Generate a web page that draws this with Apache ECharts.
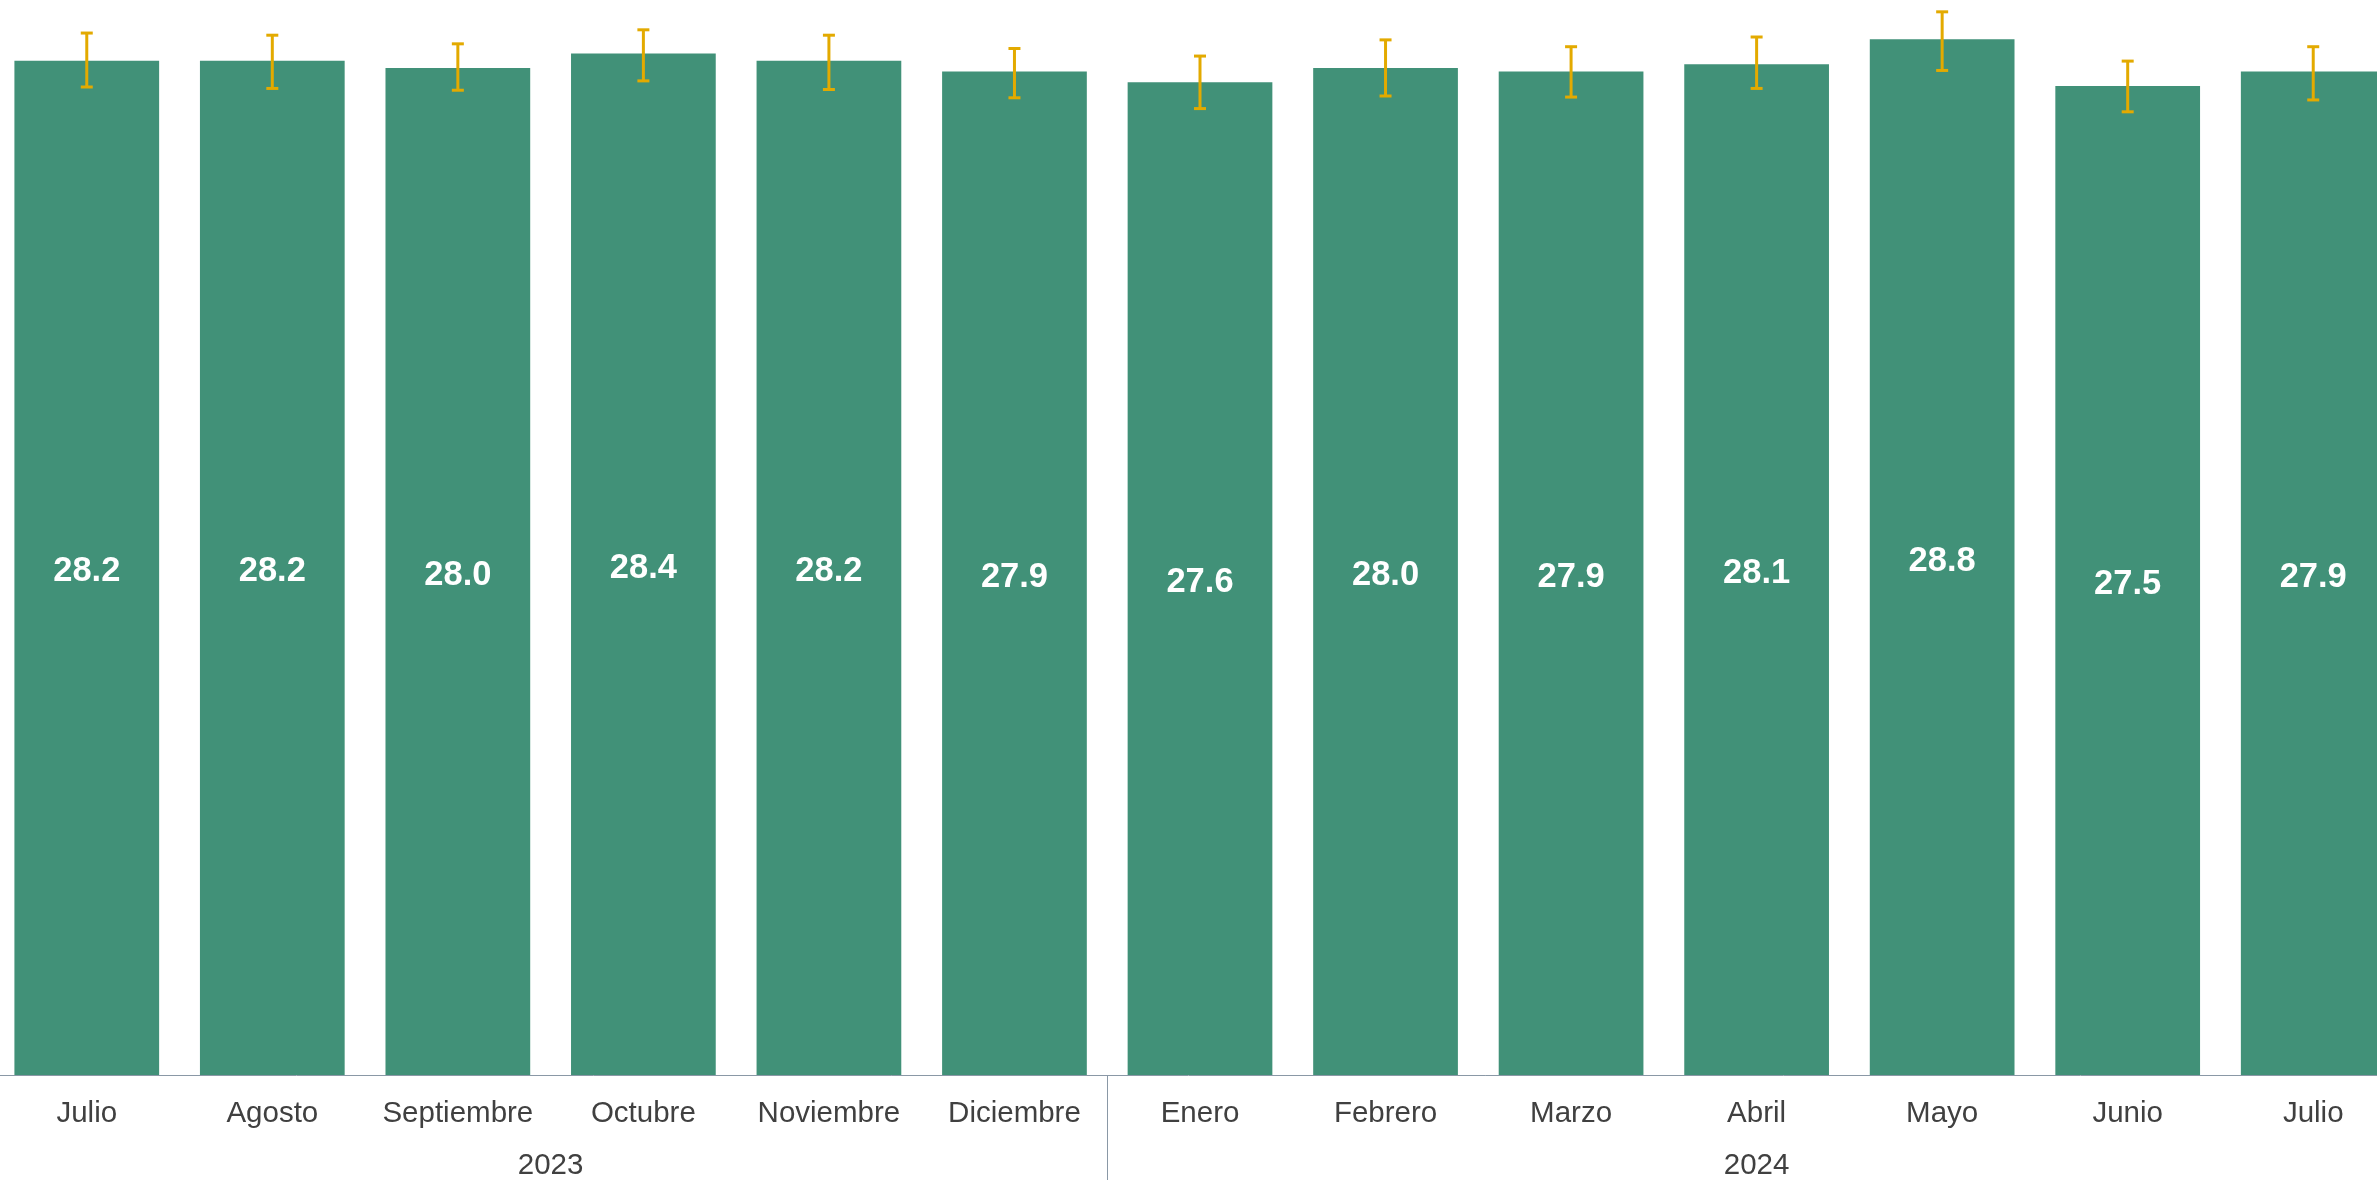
<!DOCTYPE html>
<html>
<head>
<meta charset="utf-8">
<style>
html,body{margin:0;padding:0;background:#fff;}
#chart{width:2377px;height:1180px;}
</style>
<script src="https://cdn.jsdelivr.net/npm/echarts@6/dist/echarts.min.js"></script>
</head>
<body>
<div id="chart"></div>
<script>
const months = ['Julio','Agosto','Septiembre','Octubre','Noviembre','Diciembre','Enero','Febrero','Marzo','Abril','Mayo','Junio','Julio'];
const values = [28.2, 28.2, 28.0, 28.4, 28.2, 27.9, 27.6, 28.0, 27.9, 28.1, 28.8, 27.5, 27.9];
const lowerCI = [27.47, 27.43, 27.38, 27.64, 27.40, 27.17, 26.87, 27.22, 27.19, 27.43, 27.93, 26.78, 27.11];
const upperCI = [28.97, 28.91, 28.67, 29.06, 28.91, 28.54, 28.33, 28.78, 28.59, 28.86, 29.56, 28.19, 28.59];
const years = ['2023', '2024'];
const yearCenters = [2.5, 9];   // category positions of the year labels
const yearBoundary = [5.5];     // separator between 2023 and 2024

const chart = echarts.init(document.getElementById('chart'));
const errData = months.map((m, i) => [i, lowerCI[i], upperCI[i]]);

chart.setOption({
  animation: false,
  grid: { left: -6, width: 2412, top: -4, bottom: 105, containLabel: false, outerBoundsMode: 'none' },
  xAxis: [{
    type: 'category',
    data: months,
    boundaryGap: true,
    axisLine: { show: true, lineStyle: { color: '#8a98a6', width: 1 } },
    axisTick: { show: false },
    axisLabel: {
      interval: 0,
      margin: 24,
      fontSize: 29.5,
      fontFamily: 'Liberation Sans, Arial, sans-serif',
      color: '#404040'
    }
  }, {
    type: 'value',
    position: 'bottom',
    min: -0.5,
    max: 12.5,
    axisLine: { show: false },
    axisTick: {
      show: true,
      customValues: yearBoundary,
      length: 110,
      lineStyle: { color: '#8a98a6', width: 1 }
    },
    splitLine: { show: false },
    axisLabel: {
      customValues: yearCenters,
      margin: 76,
      fontSize: 29.5,
      fontFamily: 'Liberation Sans, Arial, sans-serif',
      color: '#404040',
      hideOverlap: false,
      formatter: function (v) {
        const k = yearCenters.indexOf(v);
        return k >= 0 ? years[k] : '';
      }
    }
  }],
  yAxis: {
    type: 'value',
    min: 0,
    max: 30,
    show: false,
    splitLine: { show: false }
  },
  series: [{
    type: 'bar',
    data: values,
    barWidth: '78%',
    itemStyle: { color: '#419178' },
    label: {
      show: true,
      position: 'inside',
      offset: [0, 4],
      color: '#ffffff',
      fontWeight: 'bold',
      fontSize: 34.5,
      fontFamily: 'Liberation Sans, Arial, sans-serif',
      formatter: function (p) { return p.value.toFixed(1); }
    },
    z: 2
  }, {
    type: 'custom',
    data: errData,
    z: 5,
    renderItem: function (params, api) {
      const x = api.value(0);
      const lo = api.coord([x, api.value(1)]);
      const hi = api.coord([x, api.value(2)]);
      const half = 6;
      const style = { stroke: '#E3AA00', lineWidth: 3 };
      return {
        type: 'group',
        children: [
          { type: 'line', shape: { x1: hi[0], y1: hi[1], x2: lo[0], y2: lo[1] }, style: style },
          { type: 'line', shape: { x1: hi[0] - half, y1: hi[1], x2: hi[0] + half, y2: hi[1] }, style: style },
          { type: 'line', shape: { x1: lo[0] - half, y1: lo[1], x2: lo[0] + half, y2: lo[1] }, style: style }
        ]
      };
    }
  }]
});
</script>
</body>
</html>
